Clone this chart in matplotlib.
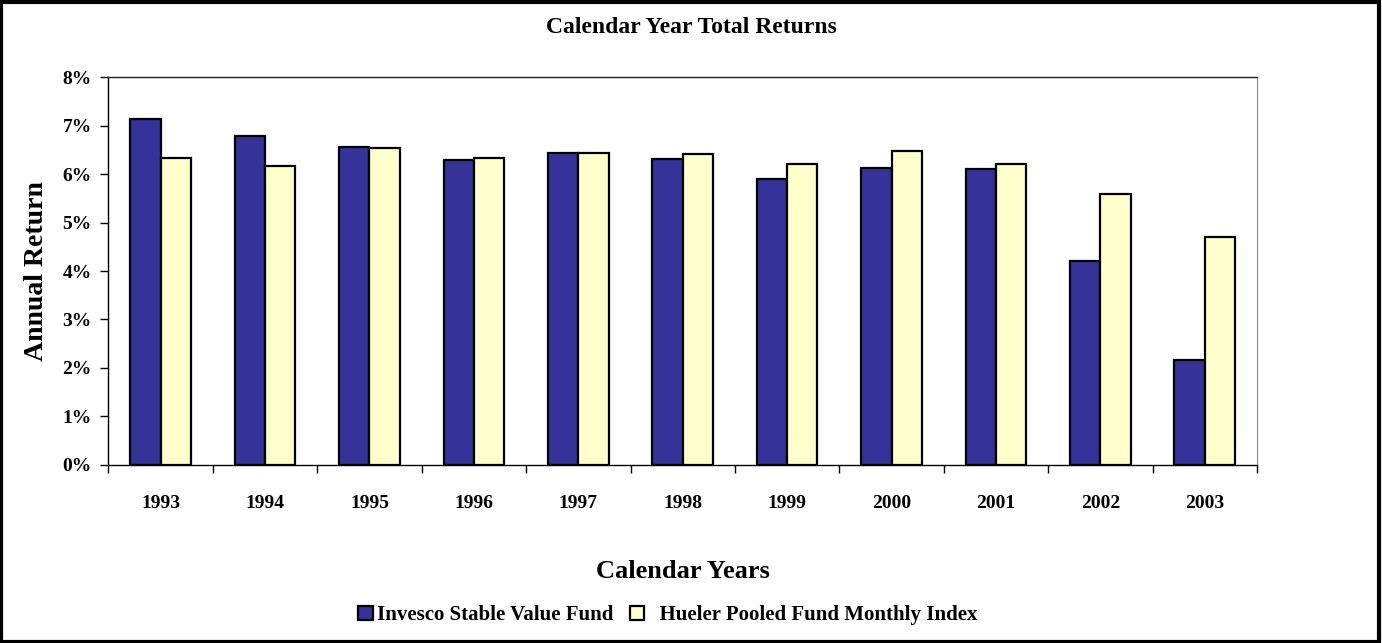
import numpy as np
import matplotlib
matplotlib.use('Agg')
import matplotlib.pyplot as plt
from matplotlib.patches import Rectangle
from matplotlib.ticker import FuncFormatter, MultipleLocator

years = ['1993', '1994', '1995', '1996', '1997', '1998', '1999', '2000', '2001', '2002', '2003']
invesco = [7.14, 6.78, 6.56, 6.29, 6.44, 6.31, 5.89, 6.13, 6.10, 4.20, 2.17]
hueler = [6.33, 6.17, 6.54, 6.34, 6.44, 6.41, 6.20, 6.48, 6.20, 5.59, 4.70]
series_names = ['Invesco Stable Value Fund', 'Hueler Pooled Fund Monthly Index']

plt.rcParams['font.family'] = ['Liberation Serif', 'DejaVu Serif']
plt.rcParams['font.weight'] = 'bold'
plt.rcParams['axes.labelweight'] = 'bold'

fig = plt.figure(figsize=(13.82, 6.43), dpi=100)
ax = fig.add_axes([0.0785, 0.277, 0.831, 0.603])

x = np.arange(len(years))
w = 0.29
b1 = ax.bar(x - w / 2, invesco, w, color='#333399', edgecolor='black', linewidth=1.6, label=series_names[0])
b2 = ax.bar(x + w / 2, hueler, w, color='#FFFFCC', edgecolor='black', linewidth=1.6, label=series_names[1])

ax.set_xlim(-0.5, len(years) - 0.5)
ax.set_ylim(0, 8)
ax.yaxis.set_major_locator(MultipleLocator(1))
ax.yaxis.set_major_formatter(FuncFormatter(lambda v, p: '%d%%' % v))
ax.set_xticks(x)
ax.set_xticklabels(years)
ax.set_xticks(np.arange(-0.5, len(years), 1), minor=True)
ax.tick_params(axis='x', which='major', length=0, pad=22, labelsize=14)
ax.tick_params(axis='x', which='minor', length=6, width=1)
ax.tick_params(axis='y', length=6, width=1, labelsize=14, pad=6)

for s in ['left', 'bottom']:
    ax.spines[s].set_linewidth(1)
ax.spines['top'].set_color('#222222')
ax.spines['right'].set_color('#888888')
ax.spines['top'].set_linewidth(1)
ax.spines['right'].set_linewidth(0.8)

ax.set_ylabel('Annual Return', fontsize=20, labelpad=10)
ax.set_xlabel('Calendar Years', fontsize=19, labelpad=34)
fig.text(0.5, 0.958, 'Calendar Year Total Returns', ha='center', va='center', fontsize=17)

fig.legend(handles=[b1, b2], labels=[series_names[0], '  ' + series_names[1]],
           loc='center', bbox_to_anchor=(0.483, 0.043), ncol=2,
           frameon=False, fontsize=15, handlelength=0.7, handleheight=0.7,
           handletextpad=0.2, columnspacing=0.8)

fig.add_artist(Rectangle((0.001, 0.002), 0.997, 0.995, transform=fig.transFigure,
                         fill=False, edgecolor='black', linewidth=3))

fig.savefig('out.png', dpi=100)
